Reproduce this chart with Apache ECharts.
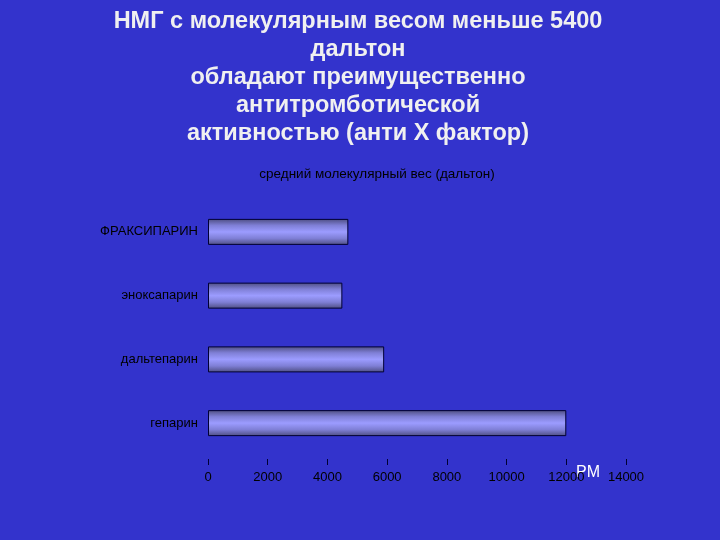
<!DOCTYPE html>
<html><head><meta charset="utf-8">
<script src="https://cdn.jsdelivr.net/npm/echarts@6/dist/echarts.min.js"></script>
<style>html,body{margin:0;padding:0;background:#3333CC;}#c{width:720px;height:540px;}</style>
</head><body><div id="c"></div>
<script>
const titleLines = ['НМГ с молекулярным весом меньше 5400', 'дальтон', 'обладают преимущественно', 'антитромботической', 'активностью (анти Х фактор)'];
const subTitle = 'средний молекулярный вес (дальтон)';
const categories = ['гепарин', 'дальтепарин', 'эноксапарин', 'ФРАКСИПАРИН'];
const values = [12000, 5900, 4500, 4700];
const axisMin = 0, axisMax = 14000, axisStep = 2000;

const chart = echarts.init(document.getElementById('c'));
chart.setOption({
  backgroundColor: '#3333CC',
  animation: false,
  title: [{
    text: titleLines.join('\n'),
    left: 353, top: 3, textAlign: 'center',
    textStyle: {color: '#F0F0F0', fontFamily: 'Liberation Sans, Arial', fontWeight: 'bold', fontSize: 23.5, lineHeight: 28}
  }, {
    text: subTitle,
    left: 372, top: 162, textAlign: 'center',
    textStyle: {color: '#000000', fontFamily: 'Liberation Sans, Arial', fontWeight: 'normal', fontSize: 13.5}
  }],
  graphic: [{
    type: 'text', left: 576, top: 465,
    style: {text: 'PM', fill: '#FFFFFF', font: '16px Liberation Sans, Arial'}
  }],
  grid: {left: 208, right: 94, top: 200, bottom: 85},
  xAxis: {
    type: 'value', min: axisMin, max: axisMax, interval: axisStep, offset: 4,
    axisLine: {show: false},
    axisTick: {show: true, length: 6, lineStyle: {color: '#000033'}},
    splitLine: {show: false},
    axisLabel: {color: '#000000', fontFamily: 'Liberation Sans, Arial', fontSize: 13, margin: 12,
      formatter: function (v) { return String(v); }}
  },
  yAxis: {
    type: 'category', data: categories,
    axisLine: {show: false}, axisTick: {show: false},
    axisLabel: {color: '#000000', fontFamily: 'Liberation Sans, Arial', fontSize: 13, margin: 10}
  },
  series: [{
    type: 'bar', data: values, barWidth: 26,
    itemStyle: {
      borderColor: '#000033', borderWidth: 1,
      color: new echarts.graphic.LinearGradient(0, 0, 0, 1, [
        {offset: 0, color: '#4d4d80'},
        {offset: 0.25, color: '#7f7fd6'},
        {offset: 0.5, color: '#9c9cff'},
        {offset: 0.75, color: '#7f7fd6'},
        {offset: 1, color: '#4d4d80'}
      ])
    }
  }]
});
</script></body></html>
